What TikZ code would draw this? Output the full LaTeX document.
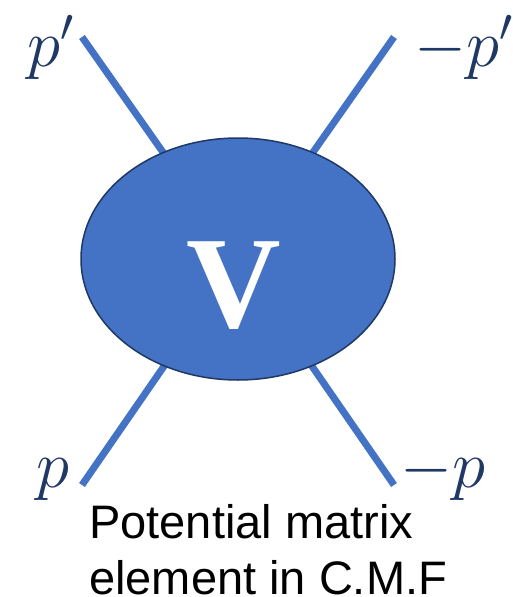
\RequirePackage{fix-cm}
\documentclass[tikz,border=0pt]{standalone}
\usepackage{fontspec}
\usetikzlibrary{shapes.geometric}
\newfontfamily\sansf{Liberation Sans}
\newfontfamily\seriff{Liberation Serif}
\definecolor{accent}{HTML}{4472C4}
\definecolor{navy}{HTML}{1F3864}
\begin{document}
\begin{tikzpicture}[x=1pt,y=-1pt,
  leg/.style={draw=accent, line width=7pt},
  vertex/.style={ellipse, fill=accent, draw=navy, line width=1.5pt,
    minimum width=314pt, minimum height=242pt, inner sep=0pt},
  mom/.style={text=navy, inner sep=0pt, font=\fontsize{67}{67}\selectfont},
  vlabel/.style={text=white, inner sep=0pt, font=\seriff\bfseries\fontsize{131}{131}\selectfont},
  caption/.style={inner sep=0pt, align=left, font=\sansf\fontsize{47}{56}\selectfont}]
\useasboundingbox (0,0) rectangle (512,597);
\coordinate (c) at (238,259);
\coordinate (ul) at (82,37);
\coordinate (ur) at (394,37);
\coordinate (ll) at (82,485);
\coordinate (lr) at (394,485);
\draw[leg] (ul) -- (c);
\draw[leg] (ur) -- (c);
\draw[leg] (ll) -- (c);
\draw[leg] (lr) -- (c);
\node[vertex] (v) at (c) {};
\node[vlabel, anchor=base] (vl) at (234,327) {V};
\node[mom, anchor=base west] (lp1) at (27,66) {$p'$};
\node[mom, anchor=base east] (lp2) at (513,66) {$-p'$};
\node[mom, anchor=base west] (lp3) at (36,487) {$p$};
\node[mom, anchor=base east] (lp4) at (486,487) {$-p$};
\node[caption, anchor=base west] (cap) at (89,594) {Potential matrix\\element in C.M.F};
\end{tikzpicture}
\end{document}
